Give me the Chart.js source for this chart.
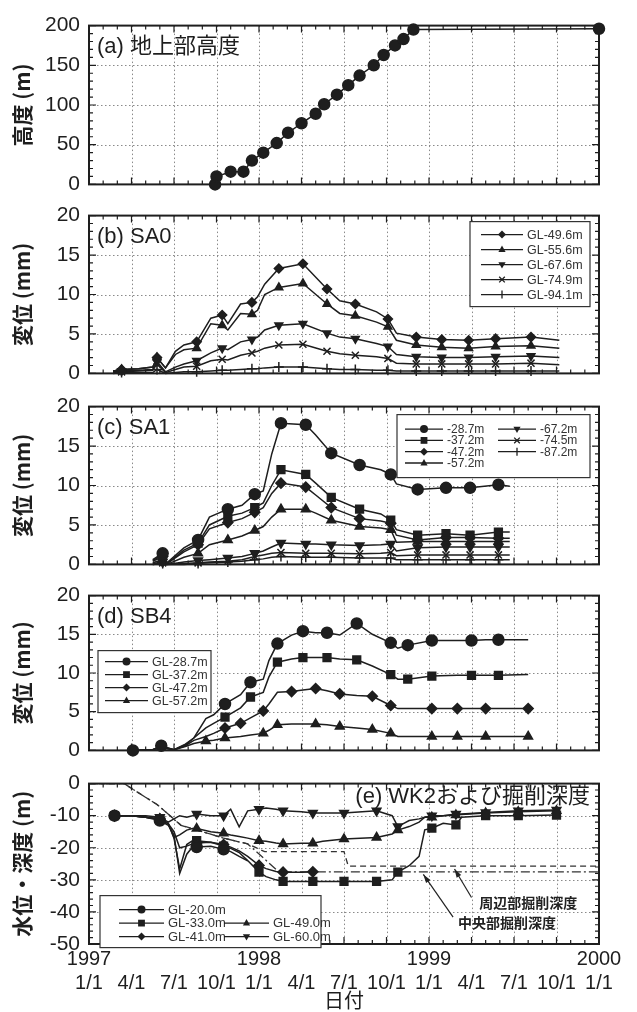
<!DOCTYPE html>
<html>
<head>
<meta charset="utf-8">
<script src="https://cdn.jsdelivr.net/npm/chart.js@4.4.1/dist/chart.umd.min.js"></script>
<style>
  html, body { margin: 0; padding: 0; background: #fff; }
  body { position: relative; width: 637px; height: 1012px; overflow: hidden; }
  canvas { position: absolute; left: 0; }
</style>
</head>
<body>
<canvas id="chartA"></canvas>
<canvas id="chartB"></canvas>
<canvas id="chartC"></canvas>
<canvas id="chartD"></canvas>
<canvas id="chartE"></canvas>
<script>
// ---------- Data (x = months since 1997/1/1) ----------

// (a) building height above ground
const aMonth  = [8.9, 9.0, 10.0, 10.9, 11.5, 12.3, 13.25, 14.05, 15.0, 16.0, 16.6, 17.5, 18.3, 19.1, 20.1, 20.8, 21.6, 22.2, 22.9, 36];
const aHeight = [0, 10, 16, 16, 30, 40, 52, 65, 77, 89, 101, 113, 125, 137, 150, 163, 175, 183, 195, 196];

// (b) SA0
const bMonth = [1.7, 2.3, 3.5, 4.5, 4.8, 5.4, 6.1, 6.7, 7.6, 8.6, 9.4, 9.8, 10.7, 11.5, 11.9, 12.4, 13.4, 15.1, 16.8, 17.7, 18.8, 20.3, 21.1, 21.7, 23.1, 24.9, 26.8, 28.7, 31.2, 33.2];
const b496 = [0.3, 0.5, 0.6, 0.8, 2.0, 0.7, 2.8, 3.6, 4.0, 7.0, 7.4, 6.3, 8.8, 9.0, 9.7, 11.3, 13.3, 13.9, 10.7, 9.2, 8.8, 7.8, 6.9, 5.1, 4.6, 4.3, 4.2, 4.4, 4.6, 4.2];
const b556 = [0.3, 0.5, 0.6, 0.8, 2.0, 0.7, 2.4, 3.0, 3.2, 6.3, 6.1, 5.5, 7.6, 7.5, 8.0, 10.0, 10.9, 11.4, 8.8, 7.6, 7.3, 6.5, 5.9, 4.2, 3.6, 3.3, 3.2, 3.4, 3.5, 3.2];
const b676 = [0.2, 0.3, 0.4, 0.5, 1.5, 0.2, 0.8, 1.2, 1.6, 2.6, 3.2, 3.0, 4.0, 4.3, 4.6, 5.5, 6.1, 6.3, 5.1, 4.6, 4.4, 3.8, 3.4, 2.4, 2.1, 2.0, 2.0, 2.1, 2.2, 2.0];
const b749 = [0.1, 0.2, 0.3, 0.4, 1.2, 0.1, 0.5, 0.8, 0.9, 1.6, 1.8, 1.7, 2.3, 2.6, 2.8, 3.2, 3.6, 3.7, 2.8, 2.5, 2.3, 2.1, 1.9, 1.3, 1.2, 1.2, 1.2, 1.2, 1.3, 1.1];
const b941 = [0, 0.1, 0.1, 0.1, 0.5, 0, 0.1, 0.2, 0.2, 0.3, 0.4, 0.4, 0.5, 0.6, 0.6, 0.7, 0.8, 0.8, 0.6, 0.5, 0.5, 0.4, 0.4, 0.3, 0.3, 0.3, 0.3, 0.3, 0.3, 0.3];
const bMarks = [2.3, 4.8, 7.6, 9.4, 11.5, 13.4, 15.1, 16.8, 18.8, 21.1, 23.1, 24.9, 26.8, 28.7, 31.2];

// (c) SA1
const cMonth = [4.5, 5.2, 5.5, 6.7, 7.7, 8.5, 9.8, 10.8, 11.7, 12.3, 12.9, 13.55, 15.3, 16.0, 17.1, 19.1, 20.6, 21.3, 21.7, 23.2, 25.2, 26.9, 28.9, 29.7];
const c287 = [0.6, 1.4, 0.2, 2.1, 3.1, 6.0, 7.0, 7.5, 8.9, 9.3, 14.0, 17.9, 17.7, 16.4, 14.1, 12.6, 12.0, 11.4, 10.2, 9.5, 9.7, 9.7, 10.1, 9.9];
const c372 = [0.5, 1.2, 0.1, 1.8, 2.7, 5.0, 6.1, 6.5, 7.2, 7.8, 10.0, 12.0, 11.4, 10.3, 8.5, 7.0, 6.4, 5.6, 4.4, 3.7, 3.9, 3.7, 4.1, 4.1];
const c472 = [0.4, 1.0, 0.1, 1.6, 2.5, 4.5, 5.3, 5.8, 6.6, 7.2, 9.0, 10.3, 9.8, 8.8, 7.2, 5.8, 5.5, 5.2, 3.7, 3.1, 3.4, 3.4, 3.3, 3.3];
const c572 = [0.2, 0.6, 0.0, 0.9, 1.4, 2.5, 3.1, 3.6, 4.3, 4.8, 6.0, 7.0, 7.0, 6.5, 5.6, 4.8, 4.6, 4.4, 2.8, 2.9, 2.9, 2.9, 2.9, 2.9];
const c672 = [0.1, 0.3, 0.0, 0.3, 0.5, 0.6, 0.8, 1.0, 1.4, 1.7, 2.2, 2.7, 2.6, 2.6, 2.5, 2.4, 2.5, 2.6, 1.7, 2.1, 2.2, 2.2, 2.2, 2.2];
const c745 = [0, 0.2, 0, 0.1, 0.2, 0.3, 0.4, 0.6, 1.0, 1.2, 1.4, 1.5, 1.4, 1.4, 1.4, 1.35, 1.4, 1.5, 1.1, 1.2, 1.2, 1.2, 1.2, 1.2];
const c872 = [0, 0.1, 0, 0, 0.1, 0.2, 0.3, 0.4, 0.6, 0.7, 0.9, 1.0, 0.9, 0.9, 0.9, 0.8, 0.8, 0.8, 0.6, 0.6, 0.6, 0.6, 0.6, 0.6];
const cMarks = [5.2, 7.7, 9.8, 11.7, 13.55, 15.3, 17.1, 19.1, 21.3, 23.2, 25.2, 26.9, 28.9];

// (d) SB4
const dMonth = [3.1, 4.5, 5.1, 6.0, 6.8, 7.4, 8.25, 8.8, 9.6, 10.7, 11.4, 12.3, 12.7, 13.3, 14.3, 15.1, 16.0, 16.8, 17.7, 18.9, 20.0, 21.3, 21.8, 22.5, 24.2, 26.0, 27.0, 28.0, 28.9, 31.0];
const d287 = [0, 0.1, 0.6, 0.1, 0.8, 1.6, 4.1, 4.6, 6.0, 7.2, 8.8, 9.2, 11.6, 13.8, 14.9, 15.4, 15.2, 15.2, 14.9, 16.4, 15.0, 13.9, 13.2, 13.6, 14.2, 14.2, 14.2, 14.3, 14.3, 14.3];
const d372 = [0, 0.1, 0.5, 0.1, 0.7, 1.6, 2.9, 3.5, 4.3, 5.5, 6.9, 7.5, 9.5, 11.4, 11.8, 12.0, 12.0, 12.0, 11.8, 11.7, 10.9, 9.8, 9.2, 9.2, 9.6, 9.7, 9.7, 9.7, 9.7, 9.8];
const d472 = [0, 0.1, 0.4, 0.1, 0.6, 1.3, 1.8, 2.2, 2.9, 3.5, 4.2, 5.1, 6.0, 7.5, 7.6, 7.8, 8.0, 7.7, 7.3, 7.1, 7.0, 5.8, 5.4, 5.4, 5.4, 5.4, 5.4, 5.4, 5.4, 5.4];
const d572 = [0, 0.1, 0.3, 0.1, 0.5, 0.9, 1.2, 1.3, 1.6, 1.8, 2.0, 2.2, 2.6, 3.3, 3.4, 3.4, 3.4, 3.3, 3.1, 2.9, 2.7, 2.2, 1.8, 1.8, 1.8, 1.8, 1.8, 1.8, 1.8, 1.8];
const dMarks287 = [3.1, 5.1, 9.6, 11.4, 13.3, 15.1, 16.8, 18.9, 21.3, 22.5, 24.2, 27.0, 28.9];
const dMarks372 = [9.6, 11.4, 13.3, 15.1, 16.8, 18.9, 21.3, 22.5, 24.2, 27.0, 28.9];
const dMarks472 = [9.6, 10.7, 12.3, 14.3, 16.0, 17.7, 20.0, 21.3, 24.2, 26.0, 28.0, 31.0];
const dMarks572 = [8.25, 9.6, 12.3, 13.3, 16.0, 17.7, 20.0, 21.3, 24.2, 26.0, 28.0, 31.0];

// (e) WK2 water levels and excavation depth
const eMonth = [1.8, 3.0, 4.0, 5.0, 5.6, 6.0, 6.4, 6.9, 7.3, 7.6, 8.6, 9.5, 10.0, 10.6, 11.2, 12.0, 12.5, 13.2, 13.7, 15.0, 15.8, 16.5, 18.0, 20.3, 21.4, 21.8, 22.6, 23.3, 23.7, 24.2, 25.0, 25.9, 26.3, 28.0, 30.3, 33.0];
const e200 = [-10, -10, -10.5, -11.5, -13, -16, -28, -22, -19.8, -19.8, -19.5, -20.5, -21.2, -22.7, -24.1, null, null, null, null, null, null, null, null, null, null, null, null, null, null, null, null, null, null, null, null, null];
const e330 = [-10, -10, -10.5, -11, -12.5, -17, -26.6, -19, -17.8, -17.8, -18.3, -19.5, -20.2, -21.5, -24, -27.6, -29, -30, -30.5, -30.5, -30.5, -30.5, -30.5, -30.5, -30, -27.6, -25.6, -22.7, -14.4, -13.9, -12.4, -12.9, -10.5, -10, -10, -9.8];
const e410 = [-10, -10, -10.5, -11, -12.5, -15, -20, -19.5, -18.8, -18.5, -18.3, -19, -19.8, -21, -22.7, -25.5, -26.5, -27.4, -27.6, -27.6, -27.5, null, null, null, null, null, null, null, null, null, null, null, null, null, null, null];
const e490 = [-10, -10, -10.5, -11, -12.5, -16.8, -16, -14.5, -14, -14, -15, -15.5, -16, -16.5, -17, -17.8, -18, -18.5, -18.8, -18.6, -18.6, -18, -17.3, -16.8, -15.7, -14.5, -13.4, -12, -10.5, -10.5, -10, -9.8, -9.6, -9.2, -8.8, -8.5];
const e600 = [-10, -10, -10, -10.5, -12, -11, -10, -10.5, -10, -9.5, -10, -10, -8, -13.5, -8.5, -8, -7.6, -8, -8.5, -8.8, -9.2, -9.2, -9.2, -8.5, -10, -13.4, -11.5, -11, -10.5, -10, -10, -9.5, -9.5, -9, -8.5, -8.2];
const eMarks = [1.8, 5.0, 7.6, 9.5, 12.0, 13.7, 15.8, 18.0, 20.3, 21.8, 24.2, 25.9, 28.0, 30.3, 33.0];
const excMonthOuter = [0, 2.5, 3.0, 4.8, 6.5, 9.5, 11.2, 12.4, 18.0, 18.3, 36];
const excOuter      = [0, 0, -1.5, -6.5, -13, -17, -18.8, -21.2, -21.2, -25.7, -25.7];
const excMonthInner = [0, 2.5, 3.0, 4.8, 6.5, 9.5, 11.2, 13.4, 36];
const excInner      = [0, 0, -1.5, -6.5, -13, -17, -18.8, -27.5, -27.5];

// ---------- Style ----------
const INK = "#1e1e1e";
const NUM_FONT = '"Liberation Sans", Arial, "Noto Sans CJK JP", sans-serif';
const JP_FONT = '"Noto Sans CJK JP", "Liberation Sans", sans-serif';
const PLOT_LEFT = 89;
const PLOT_RIGHT_PAD = 38;

const MARK = {
  circle:  { ps: "circle", rot: 0, r: 5 },
  square:  { ps: "rect", rot: 0, r: 5 },
  diamond: { ps: "rectRot", rot: 0, r: 5 },
  tri:     { ps: "triangle", rot: 0, r: 5 },
  triDown: { ps: "triangle", rot: 180, r: 5 },
  x:       { ps: "crossRot", rot: 0, r: 5 },
  plus:    { ps: "cross", rot: 0, r: 5 },
};

function series(label, months, values, marks, mark, extra) {
  return Object.assign({
    label,
    data: months.map((m, i) => ({ x: m, y: values[i] })),
    borderColor: INK,
    backgroundColor: INK,
    borderWidth: 1.5,
    pointStyle: mark.ps,
    pointRotation: mark.rot,
    pointBorderWidth: 1.5,
    pointRadius: ctx => (marks.includes(months[ctx.dataIndex]) ? mark.r : 0),
    pointHoverRadius: 0,
    tension: 0,
    spanGaps: false,
    clip: 8,
    mark,
  }, extra || {});
}

// ---------- Plugin: frame, dotted grid, inward ticks, panel label, legend, notes ----------
function drawMarker(ctx, mark, x, y, r) {
  ctx.save();
  ctx.translate(x, y);
  ctx.rotate(mark.rot * Math.PI / 180);
  ctx.beginPath();
  switch (mark.ps) {
    case "circle": ctx.arc(0, 0, r, 0, Math.PI * 2); ctx.fill(); break;
    case "rect": ctx.fillRect(-r * 0.85, -r * 0.85, r * 1.7, r * 1.7); break;
    case "rectRot": ctx.moveTo(0, -r); ctx.lineTo(r, 0); ctx.lineTo(0, r); ctx.lineTo(-r, 0); ctx.closePath(); ctx.fill(); break;
    case "triangle": ctx.moveTo(0, -r); ctx.lineTo(r * 0.9, r * 0.6); ctx.lineTo(-r * 0.9, r * 0.6); ctx.closePath(); ctx.fill(); break;
    case "crossRot": ctx.moveTo(-r * 0.7, -r * 0.7); ctx.lineTo(r * 0.7, r * 0.7); ctx.moveTo(r * 0.7, -r * 0.7); ctx.lineTo(-r * 0.7, r * 0.7); ctx.stroke(); break;
    case "cross": ctx.moveTo(0, -r); ctx.lineTo(0, r); ctx.stroke(); break;
  }
  ctx.restore();
}

const panelPlugin = {
  id: "panel",
  beforeDatasetsDraw(chart, args, o) {
    const { ctx, chartArea: ca, scales: { x, y } } = chart;
    ctx.save();
    ctx.strokeStyle = "#8a8a8a";
    ctx.lineWidth = 1;
    ctx.setLineDash([1.5, 2.5]);
    ctx.beginPath();
    for (let m = 3; m < 36; m += 3) {
      const px = Math.round(x.getPixelForValue(m)) + 0.5;
      ctx.moveTo(px, ca.top); ctx.lineTo(px, ca.bottom);
    }
    for (let v = y.min + o.yStep; v < y.max - 1e-9; v += o.yStep) {
      const py = Math.round(y.getPixelForValue(v)) + 0.5;
      ctx.moveTo(ca.left, py); ctx.lineTo(ca.right, py);
    }
    ctx.stroke();
    ctx.restore();
  },
  afterDatasetsDraw(chart, args, o) {
    const { ctx, chartArea: ca, scales: { x, y } } = chart;
    ctx.save();
    ctx.strokeStyle = INK;
    ctx.fillStyle = INK;
    // inward ticks
    ctx.lineWidth = 1.2;
    ctx.beginPath();
    for (let m = 0; m <= 36; m += 1) {
      const px = x.getPixelForValue(m);
      const len = m % 3 === 0 ? 7 : 4;
      ctx.moveTo(px, ca.bottom); ctx.lineTo(px, ca.bottom - len);
      ctx.moveTo(px, ca.top); ctx.lineTo(px, ca.top + len);
    }
    const minor = o.yStep / 5;
    for (let k = 0; y.min + k * minor <= y.max + 1e-9; k++) {
      const v = y.min + k * minor;
      const py = y.getPixelForValue(v);
      const len = k % 5 === 0 ? 7 : 4;
      ctx.moveTo(ca.left, py); ctx.lineTo(ca.left + len, py);
      ctx.moveTo(ca.right, py); ctx.lineTo(ca.right - len, py);
    }
    ctx.stroke();
    // frame
    ctx.lineWidth = 2;
    ctx.strokeRect(ca.left, ca.top, ca.right - ca.left, ca.bottom - ca.top);

    // panel label
    ctx.font = '22px ' + NUM_FONT;
    ctx.textBaseline = "middle";
    if (o.labelRight) {
      ctx.textAlign = "right";
      ctx.fillText(o.label, ca.right - 9, ca.top + 13);
    } else {
      ctx.textAlign = "left";
      ctx.fillText(o.label, ca.left + 8, ca.top + 21);
    }

    // legend
    if (o.legend) {
      const L = o.legend;
      const bx = ca.left + L.x, by = ca.top + L.y;
      ctx.fillStyle = "#fff";
      ctx.fillRect(bx, by, L.w, L.h);
      ctx.lineWidth = 1.2;
      ctx.strokeStyle = "#333";
      ctx.strokeRect(bx, by, L.w, L.h);
      ctx.font = L.font + 'px ' + NUM_FONT;
      ctx.textAlign = "left";
      ctx.textBaseline = "middle";
      L.slots.forEach((slot, i) => {
        const ds = chart.data.datasets[i];
        const lx = bx + L.colX[slot[0]];
        const ly = by + L.row0 + slot[1] * L.rowH;
        ctx.strokeStyle = INK; ctx.fillStyle = INK; ctx.lineWidth = 1.3;
        ctx.beginPath(); ctx.moveTo(lx, ly); ctx.lineTo(lx + L.lineLen, ly); ctx.stroke();
        drawMarker(ctx, ds.mark, lx + L.lineLen / 2, ly, 4);
        ctx.fillStyle = "#333";
        ctx.fillText(ds.label, lx + L.lineLen + 4, ly + 0.5);
      });
    }

    // annotations with arrows (data coordinates)
    (o.notes || []).forEach(n => {
      ctx.fillStyle = "#222";
      ctx.strokeStyle = "#222";
      ctx.font = "bold 14px " + JP_FONT;
      ctx.textAlign = "center";
      ctx.textBaseline = "middle";
      ctx.fillText(n.text, x.getPixelForValue(n.at[0]), y.getPixelForValue(n.at[1]));
      const x0 = x.getPixelForValue(n.from[0]), y0 = y.getPixelForValue(n.from[1]);
      const x1 = x.getPixelForValue(n.to[0]), y1 = y.getPixelForValue(n.to[1]);
      ctx.lineWidth = 1.2;
      ctx.beginPath(); ctx.moveTo(x0, y0); ctx.lineTo(x1, y1); ctx.stroke();
      const ang = Math.atan2(y1 - y0, x1 - x0);
      ctx.beginPath();
      ctx.moveTo(x1, y1);
      ctx.lineTo(x1 - 9 * Math.cos(ang - 0.3), y1 - 9 * Math.sin(ang - 0.3));
      ctx.lineTo(x1 - 9 * Math.cos(ang + 0.3), y1 - 9 * Math.sin(ang + 0.3));
      ctx.closePath(); ctx.fill();
    });
    ctx.restore();
  },
};

// ---------- Chart factory ----------
function makePanel(id, top, height, opts) {
  const el = document.getElementById(id);
  el.width = 637; el.height = height;
  el.style.top = top + "px";
  el.style.width = "637px"; el.style.height = height + "px";
  const showX = !!opts.showX;
  return new Chart(el.getContext("2d"), {
    type: "line",
    data: { datasets: opts.datasets },
    plugins: [panelPlugin],
    options: {
      responsive: false,
      animation: false,
      events: [],
      layout: { padding: { top: 14, right: PLOT_RIGHT_PAD, left: 0, bottom: showX ? 0 : 14 } },
      plugins: {
        legend: { display: false },
        tooltip: { enabled: false },
        panel: { label: opts.label, labelRight: opts.labelRight, yStep: opts.yStep, legend: opts.legend, notes: opts.notes },
      },
      scales: {
        x: {
          type: "linear", min: 0, max: 36,
          display: showX,
          grid: { display: false, drawTicks: false },
          border: { display: false },
          ticks: {
            stepSize: 3, autoSkip: false, maxRotation: 0, padding: 3, color: INK,
            font: { family: NUM_FONT, size: 20, lineHeight: 1.2 },
            callback: v => [v % 12 === 0 ? String(1997 + v / 12) : "", (v % 12 + 1) + "/1"],
          },
          title: { display: showX, text: "日付", color: INK, font: { family: JP_FONT, size: 20 }, padding: { top: 0, bottom: 0 } },
          afterFit: s => { if (showX) s.height = 68; },
        },
        y: {
          type: "linear", min: opts.yMin, max: opts.yMax,
          grid: { display: false, drawTicks: false },
          border: { display: false },
          ticks: { stepSize: opts.yStep, padding: 9, color: INK, font: { family: NUM_FONT, size: 21 } },
          title: { display: true, text: opts.yTitle, color: INK, font: { family: JP_FONT, size: 21, weight: "bold" }, padding: { top: 9, bottom: 0 } },
          afterFit: s => { s.width = PLOT_LEFT; },
        },
      },
    },
  });
}

// ---------- Panels ----------
makePanel("chartA", 4, 202, {
  label: "(a) 地上部高度", yTitle: "高度 (m)", yMin: 0, yMax: 200, yStep: 50,
  datasets: [series("height", aMonth, aHeight, aMonth.slice(0, -1).concat([36]), Object.assign({}, MARK.circle, { r: 5.5 }))],
});

makePanel("chartB", 194, 201, {
  label: "(b) SA0", yTitle: "変位 (mm)", yMin: 0, yMax: 20, yStep: 5,
  legend: { x: 381, y: 6, w: 120, h: 85, row0: 13, rowH: 15, colX: [11], lineLen: 42, font: 12.5, slots: [[0, 0], [0, 1], [0, 2], [0, 3], [0, 4]] },
  datasets: [
    series("GL-49.6m", bMonth, b496, bMarks, Object.assign({}, MARK.diamond, { r: 4.5 })),
    series("GL-55.6m", bMonth, b556, bMarks, Object.assign({}, MARK.tri, { r: 4.5 })),
    series("GL-67.6m", bMonth, b676, bMarks, Object.assign({}, MARK.triDown, { r: 4.5 })),
    series("GL-74.9m", bMonth, b749, bMarks, Object.assign({}, MARK.x, { r: 5 })),
    series("GL-94.1m", bMonth, b941, bMarks, Object.assign({}, MARK.plus, { r: 5 })),
  ],
});

makePanel("chartC", 385, 201, {
  label: "(c) SA1", yTitle: "変位 (mm)", yMin: 0, yMax: 20, yStep: 5,
  legend: { x: 308, y: 8, w: 193, h: 63, row0: 14.5, rowH: 11.3, colX: [8, 101], lineLen: 38, font: 12, slots: [[0, 0], [0, 1], [0, 2], [0, 3], [1, 0], [1, 1], [1, 2]] },
  datasets: [
    series("-28.7m", cMonth, c287, cMarks, Object.assign({}, MARK.circle, { r: 5.5 })),
    series("-37.2m", cMonth, c372, cMarks, Object.assign({}, MARK.square, { r: 5.5 })),
    series("-47.2m", cMonth, c472, cMarks, Object.assign({}, MARK.diamond, { r: 5 })),
    series("-57.2m", cMonth, c572, cMarks, Object.assign({}, MARK.tri, { r: 5 })),
    series("-67.2m", cMonth, c672, cMarks, Object.assign({}, MARK.triDown, { r: 5 })),
    series("-74.5m", cMonth, c745, cMarks, Object.assign({}, MARK.x, { r: 5 })),
    series("-87.2m", cMonth, c872, cMarks, Object.assign({}, MARK.plus, { r: 5 })),
  ],
});

makePanel("chartD", 574, 198, {
  label: "(d) SB4", yTitle: "変位 (mm)", yMin: 0, yMax: 20, yStep: 5,
  legend: { x: 9, y: 55, w: 113, h: 62, row0: 11, rowH: 13, colX: [7], lineLen: 43, font: 12.5, slots: [[0, 0], [0, 1], [0, 2], [0, 3]] },
  datasets: [
    series("GL-28.7m", dMonth, d287, dMarks287, Object.assign({}, MARK.circle, { r: 5.5 })),
    series("GL-37.2m", dMonth, d372, dMarks372, Object.assign({}, MARK.square, { r: 5.5 })),
    series("GL-47.2m", dMonth, d472, dMarks472, Object.assign({}, MARK.diamond, { r: 5 })),
    series("GL-57.2m", dMonth, d572, dMarks572, Object.assign({}, MARK.tri, { r: 5 })),
  ],
});

makePanel("chartE", 762, 250, {
  showX: true,
  label: "(e) WK2および掘削深度", labelRight: true, yTitle: "水位・深度 (m)", yMin: -50, yMax: 0, yStep: 10,
  legend: { x: 11, y: 112, w: 221, h: 52, row0: 14, rowH: 13.5, colX: [19, 124], lineLen: 45, font: 13, slots: [[0, 0], [0, 1], [0, 2], [1, 1], [1, 2]] },
  notes: [
    { text: "周辺部掘削深度", at: [31.0, -37.2], from: [27.0, -35.5], to: [25.8, -26.6] },
    { text: "中央部掘削深度", at: [29.5, -43.5], from: [25.7, -41.6], to: [23.6, -28.3] },
  ],
  datasets: [
    series("GL-20.0m", eMonth, e200, eMarks, Object.assign({}, MARK.circle, { r: 5.5 })),
    series("GL-33.0m", eMonth, e330, eMarks, Object.assign({}, MARK.square, { r: 5.5 })),
    series("GL-41.0m", eMonth, e410, eMarks, Object.assign({}, MARK.diamond, { r: 5 })),
    series("GL-49.0m", eMonth, e490, eMarks, Object.assign({}, MARK.tri, { r: 5 })),
    series("GL-60.0m", eMonth, e600, eMarks, Object.assign({}, MARK.triDown, { r: 5 })),
    series("周辺部掘削深度", excMonthOuter, excOuter, [], MARK.circle, { borderDash: [6, 4], borderWidth: 1.3, borderColor: "#333" }),
    series("中央部掘削深度", excMonthInner, excInner, [], MARK.circle, { borderDash: [9, 3, 2, 3], borderWidth: 1.3, borderColor: "#333" }),
  ],
});
</script>
</body>
</html>
